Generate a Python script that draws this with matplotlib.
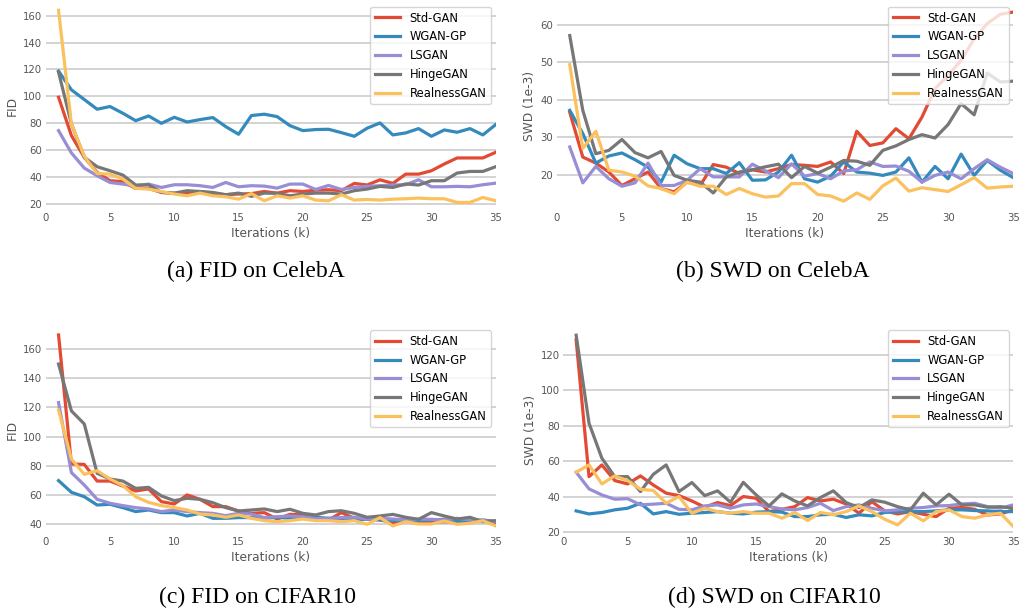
import numpy as np
import matplotlib
matplotlib.use('Agg')
import matplotlib.pyplot as plt

iters = np.arange(1, 36)
models = ['Std-GAN', 'WGAN-GP', 'LSGAN', 'HingeGAN', 'RealnessGAN']
colors = ['#E24A33', '#348ABD', '#988ED5', '#777777', '#FBC15E']

# (a) FID on CelebA
fid_celeba_std = [99.4, 70.9, 54.8, 43.6, 37.4, 36.7, 31.7, 31.7, 28.7, 28.0, 28.0, 29.4, 28.0, 27.0, 27.5, 27.8, 29.4, 28.2,
                  30.0, 29.4, 30.4, 30.7, 30.0, 35.4, 34.2, 38.1, 35.4, 42.3, 42.3, 44.8, 49.8, 54.3, 54.3, 54.3, 58.5]
fid_celeba_wgan = [118.8, 104.9, 97.7, 90.5, 92.5, 87.5, 82.0, 85.5, 80.0, 84.5, 81.0, 82.8, 84.3, 77.6, 71.9, 85.8, 86.8, 85.0,
                   78.3, 74.6, 75.4, 75.6, 73.1, 70.4, 76.4, 80.3, 71.4, 72.9, 76.1, 70.4, 75.1, 73.4, 76.1, 71.4, 79.1]
fid_celeba_ls = [74.6, 58.0, 46.8, 41.1, 36.1, 34.9, 33.4, 34.9, 32.4, 34.4, 34.4, 33.7, 32.4, 36.1, 32.9, 33.7, 33.4, 31.9,
                 34.9, 34.9, 30.9, 33.9, 30.9, 32.4, 33.2, 33.7, 34.2, 34.4, 38.1, 32.9, 32.9, 33.2, 32.9, 34.4, 35.6]
fid_celeba_hinge = [118.0, 79.6, 54.8, 47.8, 44.8, 41.6, 34.2, 34.4, 28.7, 28.2, 30.0, 29.4, 28.7, 27.0, 28.2, 25.8, 28.2, 28.0,
                    26.2, 27.5, 28.2, 28.2, 27.5, 30.0, 31.2, 33.2, 32.4, 35.0, 34.2, 37.4, 37.4, 43.1, 44.3, 44.3, 47.8]
fid_celeba_real = [164.0, 79.6, 55.5, 42.8, 42.3, 38.6, 31.7, 31.2, 29.4, 27.5, 26.2, 28.2, 26.2, 25.5, 23.7, 27.8, 22.5, 26.2,
                   24.5, 26.2, 23.0, 22.5, 27.0, 23.0, 23.5, 23.0, 23.7, 24.0, 24.5, 24.0, 24.0, 21.3, 21.3, 25.0, 22.5]

# (b) SWD on CelebA
swd_celeba_std = [36.7, 24.7, 23.1, 20.7, 17.1, 18.9, 20.7, 16.3, 15.4, 18.0, 17.1, 22.7, 22.0, 20.3, 21.3, 20.7, 21.6, 22.7,
                  22.5, 22.2, 23.4, 20.3, 31.6, 27.8, 28.5, 32.3, 29.6, 35.4, 43.0, 46.5, 50.6, 56.3, 60.4, 62.9, 63.5]
swd_celeba_wgan = [37.2, 31.0, 23.1, 25.0, 25.8, 24.0, 22.0, 18.0, 25.2, 22.9, 21.6, 21.6, 20.3, 23.2, 18.5, 18.6, 20.7, 25.2,
                   18.9, 18.0, 19.6, 23.4, 20.7, 20.4, 19.8, 20.7, 24.5, 18.0, 22.2, 18.9, 25.5, 19.8, 23.8, 21.2, 19.2]
swd_celeba_ls = [27.4, 17.8, 22.2, 18.9, 16.9, 17.8, 23.1, 17.1, 17.1, 18.5, 21.6, 19.4, 19.4, 19.4, 22.8, 21.0, 19.2, 22.9,
                 19.6, 20.3, 18.9, 21.0, 21.3, 23.4, 22.2, 22.3, 20.9, 18.0, 19.8, 20.7, 18.9, 21.6, 24.0, 22.0, 20.3]
swd_celeba_hinge = [57.2, 37.2, 25.6, 26.5, 29.4, 25.9, 24.5, 26.2, 19.8, 18.5, 18.0, 15.1, 19.4, 20.7, 21.3, 22.1, 22.8, 19.2,
                    22.2, 20.4, 22.0, 23.8, 23.6, 22.5, 26.5, 27.7, 29.4, 30.7, 29.8, 33.4, 39.0, 36.0, 47.2, 44.8, 45.0]
swd_celeba_real = [49.4, 27.0, 31.6, 21.2, 20.7, 19.6, 17.0, 16.3, 14.9, 18.0, 16.9, 16.9, 14.7, 16.3, 14.9, 14.0, 14.3, 17.6,
                   17.6, 14.7, 14.3, 12.9, 15.1, 13.4, 17.0, 19.1, 15.6, 16.5, 16.0, 15.5, 17.3, 19.2, 16.4, 16.7, 16.9]

# (c) FID on CIFAR10
fid_cifar_std = [169.6, 81.3, 81.0, 69.6, 69.6, 66.2, 62.8, 64.2, 55.5, 53.9, 60.1, 57.1, 52.1, 52.1, 49.1, 47.5, 48.0, 43.6,
                 46.8, 46.4, 44.6, 43.0, 48.0, 44.1, 43.6, 43.0, 41.1, 42.3, 41.8, 41.4, 41.8, 41.4, 41.8, 42.5, 41.1]
fid_cifar_wgan = [69.9, 61.9, 58.9, 53.2, 53.7, 51.4, 48.7, 49.8, 48.0, 48.0, 45.7, 47.5, 44.1, 44.1, 44.6, 44.6, 44.1, 44.8,
                  44.1, 45.2, 44.8, 44.1, 44.1, 43.0, 43.6, 43.0, 42.5, 43.0, 42.5, 43.0, 43.4, 41.8, 42.5, 43.0, 41.8]
fid_cifar_ls = [123.3, 75.4, 66.9, 57.1, 54.4, 52.8, 51.4, 50.5, 48.7, 49.8, 48.7, 48.0, 47.5, 45.9, 47.5, 47.0, 44.6, 45.2,
                45.7, 45.2, 43.9, 44.1, 44.6, 44.8, 43.6, 44.1, 43.6, 43.0, 43.6, 43.4, 43.0, 44.1, 43.0, 42.5, 41.8]
fid_cifar_hinge = [149.7, 117.6, 108.7, 74.9, 71.0, 69.6, 64.6, 65.3, 59.4, 56.2, 57.8, 57.1, 54.8, 51.4, 49.1, 49.8, 50.5, 48.7,
                   50.3, 47.5, 46.4, 48.7, 49.3, 47.5, 44.8, 45.7, 46.8, 44.8, 43.4, 48.0, 45.7, 43.6, 44.8, 41.8, 42.5]
fid_cifar_real = [118.2, 84.7, 74.2, 76.7, 71.0, 66.5, 58.9, 55.0, 52.8, 51.4, 49.8, 47.0, 46.4, 44.8, 46.4, 44.1, 42.5, 41.8,
                  42.5, 43.6, 42.5, 42.5, 41.8, 42.5, 40.0, 44.6, 38.9, 41.8, 40.2, 40.2, 42.3, 40.0, 40.7, 42.5, 38.9]

# (d) SWD on CIFAR10
swd_cifar_std = [128.3, 51.3, 57.9, 49.1, 47.2, 51.7, 46.6, 42.0, 40.6, 37.6, 34.1, 36.7, 35.0, 40.1, 39.1, 31.6, 32.9, 34.4,
                 39.5, 37.6, 38.6, 35.9, 30.7, 37.2, 32.0, 30.3, 31.6, 30.1, 28.8, 33.5, 33.9, 32.9, 29.7, 30.3, 32.6]
swd_cifar_wgan = [32.0, 30.3, 31.1, 32.6, 33.5, 36.3, 30.3, 31.6, 30.1, 30.7, 31.1, 31.6, 30.7, 30.3, 31.3, 31.6, 31.3, 28.8,
                  28.8, 29.8, 30.1, 28.3, 29.8, 29.2, 31.1, 31.6, 31.6, 31.6, 32.0, 32.6, 32.6, 32.2, 32.0, 31.6, 31.6]
swd_cifar_ls = [53.8, 44.4, 41.0, 38.6, 38.9, 35.4, 35.8, 36.3, 32.9, 32.6, 34.8, 35.4, 33.5, 35.4, 35.9, 34.4, 33.1, 32.6,
                33.9, 36.3, 32.2, 34.4, 35.4, 33.5, 32.0, 32.6, 33.5, 33.9, 34.8, 35.0, 35.9, 36.3, 34.4, 33.5, 35.4]
swd_cifar_hinge = [131.0, 81.4, 61.7, 51.3, 51.3, 42.9, 52.6, 57.9, 42.9, 48.0, 40.6, 43.3, 36.9, 48.1, 41.0, 34.8, 41.6, 37.6,
                   34.8, 39.5, 43.3, 36.7, 33.9, 38.2, 36.9, 34.4, 32.6, 42.0, 35.4, 41.4, 35.4, 35.4, 34.1, 34.4, 33.5]
swd_cifar_real = [53.8, 57.9, 47.2, 51.7, 49.1, 44.2, 43.5, 36.3, 40.1, 30.7, 33.5, 31.6, 30.7, 31.6, 30.7, 30.7, 27.9, 31.1,
                  26.6, 31.1, 29.8, 31.6, 34.8, 31.6, 27.3, 24.1, 30.7, 26.4, 31.6, 32.6, 28.8, 27.9, 29.8, 30.7, 23.2]

panels = [
    ('FID', [fid_celeba_std, fid_celeba_wgan, fid_celeba_ls, fid_celeba_hinge, fid_celeba_real],
     [45.7, 2.3, 495.7, 209.8], (15.8, 169.9), [20, 40, 60, 80, 100, 120, 140, 160], '(a) FID on CelebA', (256, 271)),
    ('SWD (1e-3)', [swd_celeba_std, swd_celeba_wgan, swd_celeba_ls, swd_celeba_hinge, swd_celeba_real],
     [556.7, 2.3, 1013.3, 209.8], (10.6, 66.1), [20, 30, 40, 50, 60], '(b) SWD on CelebA', (773, 271)),
    ('FID', [fid_cifar_std, fid_cifar_wgan, fid_cifar_ls, fid_cifar_hinge, fid_cifar_real],
     [45.7, 325.6, 495.7, 533.8], (33.5, 176.0), [40, 60, 80, 100, 120, 140, 160], '(c) FID on CIFAR10', (257, 597)),
    ('SWD (1e-3)', [swd_cifar_std, swd_cifar_wgan, swd_cifar_ls, swd_cifar_hinge, swd_cifar_real],
     [563.3, 325.6, 1013.3, 533.8], (19.1, 136.4), [20, 40, 60, 80, 100, 120], '(d) SWD on CIFAR10', (774, 597)),
]

W, H = 1021, 609
fig = plt.figure(figsize=(W / 100, H / 100), dpi=100)
fig.patch.set_facecolor('white')

label_gray = '#555555'
for ylabel, series, (x0, y0, x1, y1), ylim, yticks, caption, (cx, cy) in panels:
    ax = fig.add_axes([x0 / W, 1 - y1 / H, (x1 - x0) / W, (y1 - y0) / H])
    for name, vals, c in zip(models, series, colors):
        ax.plot(iters, vals, color=c, lw=2.3, label=name)
    ax.set_xlim(0, 35)
    ax.set_ylim(*ylim)
    ax.set_xticks([0, 5, 10, 15, 20, 25, 30, 35])
    ax.set_yticks(yticks)
    ax.grid(axis='y', color='#cccccc', lw=1.2)
    ax.grid(axis='x', visible=False)
    ax.set_axisbelow(True)
    for s in ax.spines.values():
        s.set_visible(False)
    ax.tick_params(length=0, pad=2.5, labelsize=7.3, labelcolor=label_gray)
    ax.set_xlabel('Iterations (k)', fontsize=8.8, color=label_gray, labelpad=3)
    ax.set_ylabel(ylabel, fontsize=8.8, color=label_gray, labelpad=3)
    ax.legend(loc='upper right', fontsize=8.3, handlelength=2.2, framealpha=0.8,
              edgecolor='#cccccc', borderaxespad=0.4)
    fig.text(cx / W, 1 - cy / H, caption, ha='center', va='center',
             family='Liberation Serif', fontsize=17, color='black')

fig.savefig('out.png', dpi=100)
